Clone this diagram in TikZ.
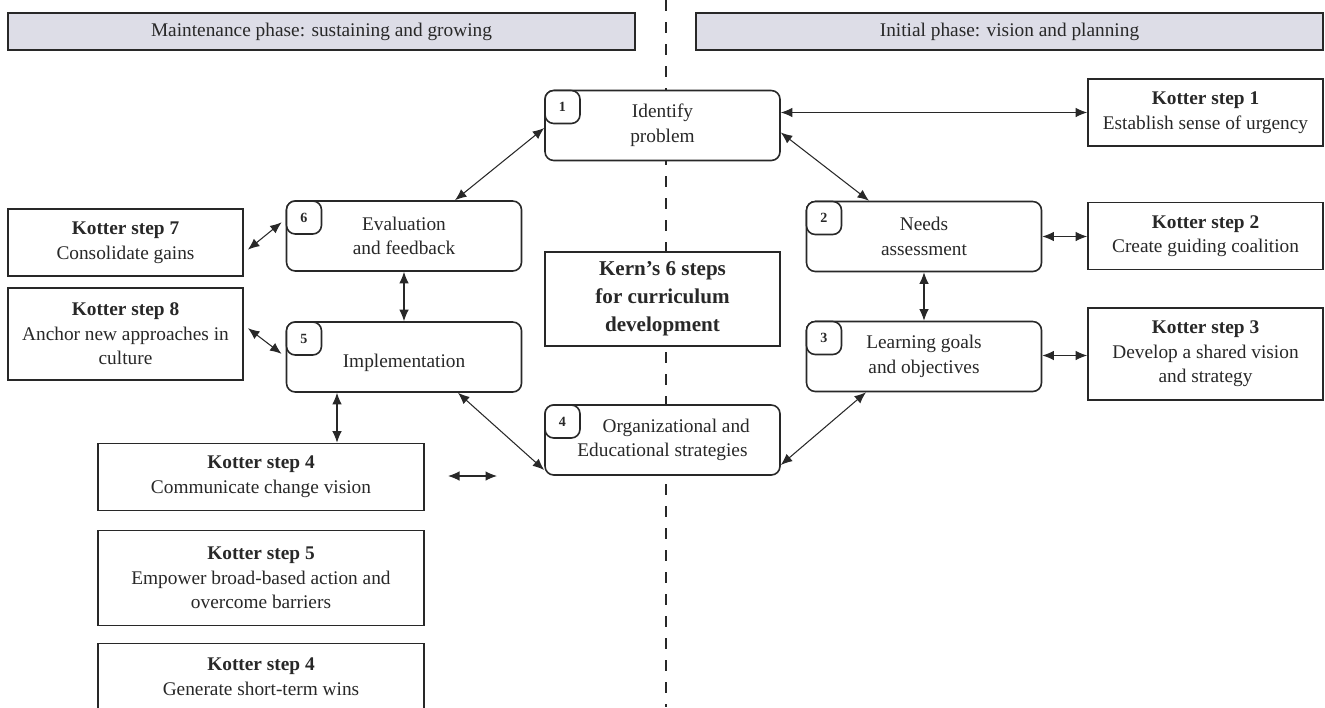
\documentclass[tikz,border=0pt]{standalone}
\usepackage{fontspec}
\setmainfont{Liberation Serif}
\usetikzlibrary{arrows.meta}

\definecolor{phasegrey}{RGB}{221,221,231}
\definecolor{inkgrey}{RGB}{40,40,40}

\begin{document}
\begin{tikzpicture}[
  every node/.style={text=inkgrey, font=\fontsize{11}{14}\selectfont},
  kern/.style={draw=inkgrey, line width=0.9pt, rounded corners=5pt, fill=white, minimum width=4.7cm, minimum height=1.4cm, align=center, inner sep=2pt},
  numbox/.style={draw=inkgrey, line width=0.9pt, rounded corners=5pt, fill=white, minimum width=0.7cm, minimum height=0.66cm, anchor=north west, inner sep=0pt, font=\fontsize{8}{9}\selectfont\bfseries},
  kotter/.style={draw=inkgrey, line width=0.9pt, fill=white, minimum width=4.7cm, minimum height=1.34cm, align=center, inner sep=2pt},
  phase/.style={draw=inkgrey, line width=0.9pt, fill=phasegrey, minimum width=12.54cm, minimum height=0.74cm},
  dashline/.style={draw=inkgrey, line width=1.4pt, dash pattern=on 0.22cm off 0.22cm},
  link/.style={<->, >={Latex[length=2.3mm,width=1.9mm]}, line width=0.6pt, draw=inkgrey},
  gap/.style={shorten <=3pt, shorten >=3pt}
]

\useasboundingbox (0,0) rectangle (26.5,-14.14);

\draw[dashline] (13.32,0) -- (13.32,-14.14);

\node[phase] (maint) at (6.43,-0.63) {Maintenance phase: sustaining and growing};
\node[phase] (init) at (20.19,-0.63) {Initial phase: vision and planning};

% Kern's six steps
\node[kern] (id) at (13.25,-2.51) {Identify\\problem};
\node[numbox] at (id.north west) {1};

\node[kern] (nd) at (18.48,-4.73) {Needs\\assessment};
\node[numbox] at (nd.north west) {2};

\node[kern] (lg) at (18.48,-7.13) {Learning goals\\and objectives};
\node[numbox] at (lg.north west) {3};

\node[kern] (oe) at (13.25,-8.8) {\hspace*{0.55cm}Organizational and\\Educational strategies};
\node[numbox] at (oe.north west) {4};

\node[kern] (im) at (8.08,-7.14) {\\Implementation};
\node[numbox] at (im.north west) {5};

\node[kern] (ev) at (8.08,-4.72) {Evaluation\\and feedback};
\node[numbox] at (ev.north west) {6};

\node[kotter, minimum height=1.88cm, font=\fontsize{12}{16}\selectfont\bfseries] (ks) at (13.25,-5.98) {Kern's 6 steps\\for curriculum\\development};

% Kotter steps
\node[kotter] (k1) at (24.11,-2.25) {\textbf{Kotter step 1}\\Establish sense of urgency};
\node[kotter] (k2) at (24.11,-4.72) {\textbf{Kotter step 2}\\Create guiding coalition};
\node[kotter, minimum height=1.84cm] (k3) at (24.11,-7.08) {\textbf{Kotter step 3}\\Develop a shared vision\\and strategy};
\node[kotter] (k7) at (2.51,-4.85) {\textbf{Kotter step 7}\\Consolidate gains};
\node[kotter, minimum height=1.84cm] (k8) at (2.51,-6.68) {\textbf{Kotter step 8}\\Anchor new approaches in\\culture};
\node[kotter, minimum width=6.52cm] (k4) at (5.22,-9.54) {\textbf{Kotter step 4}\\Communicate change vision};
\node[kotter, minimum width=6.52cm, minimum height=1.9cm] (k5) at (5.22,-11.56) {\textbf{Kotter step 5}\\Empower broad-based action and\\overcome barriers};
\node[kotter, minimum width=6.52cm] (k6) at (5.22,-13.54) {\textbf{Kotter step 4}\\Generate short-term wins};

% arrows
\draw[link] (k1.west -| id.east) -- (k1.west);
\draw[link] ([yshift=-0.14cm]id.east) -- ([xshift=-1.1cm]nd.north);
\draw[link] ([yshift=-0.05cm]id.west) -- ([xshift=1.02cm]ev.north);
\draw[link] (nd.east) -- (nd.east -| k2.west);
\draw[link] (nd.south) -- (lg.north);
\draw[link] ([yshift=0.02cm]lg.east) -- ([yshift=0.02cm]lg.east -| k3.west);
\draw[link] ([xshift=-1.16cm]lg.south) -- ([yshift=-0.5cm]oe.east);
\draw[link] ([xshift=1.08cm]im.south) -- ([yshift=-0.6cm]oe.west);
\draw[link] (ev.south) -- (im.north);
\draw[link] ([xshift=-1.34cm]im.south) -- ([xshift=-1.34cm]im.south |- k4.north);
\draw[link, gap] ([yshift=-0.21cm]k7.east) -- ([yshift=0.34cm]ev.west);
\draw[link, gap] ([yshift=0.18cm]k8.east) -- (im.west);

\coordinate (freeL) at (8.96,-9.52);
\coordinate (freeR) at (9.94,-9.52);
\draw[link] (freeL) -- (freeR);

\end{tikzpicture}
\end{document}
